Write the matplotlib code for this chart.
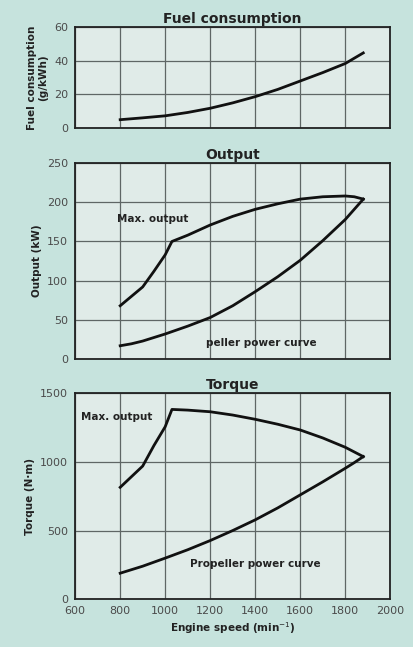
import matplotlib
matplotlib.use('Agg')
import matplotlib.pyplot as plt

# engine speed (min^-1)
rpm_fuel = [800, 900, 1000, 1100, 1200, 1300, 1400, 1500, 1600, 1700, 1800, 1880]
fuel = [5, 6.1, 7.3, 9.3, 11.8, 15, 18.7, 23, 28, 33, 38.4, 44.7]

rpm_max = [800, 900, 950, 1000, 1030, 1100, 1200, 1300, 1400, 1500, 1600, 1700, 1800, 1840, 1880]
out_max = [68, 92, 112, 133, 150, 158, 171, 182, 191, 198, 204, 207, 208, 207, 204]
rpm_prop = [800, 850, 900, 1000, 1100, 1200, 1300, 1400, 1500, 1600, 1700, 1800, 1840, 1880]
out_prop = [17, 19.5, 23, 32, 42, 53, 68, 86, 105, 126, 151, 178, 191, 204]

torque_max = [815, 970, 1120, 1257, 1383, 1378, 1366, 1342, 1311, 1275, 1233, 1175, 1107, 1073, 1039]
rpm_tprop = [800, 900, 1000, 1100, 1200, 1300, 1400, 1500, 1600, 1700, 1800, 1840, 1880]
torque_prop = [189, 240, 299, 360, 427, 500, 578, 665, 760, 855, 954, 995, 1039]

xticks = [600, 800, 1000, 1200, 1400, 1600, 1800, 2000]

bg = '#c6e3dd'
face = '#e0ebe8'
txt = '#222222'

fig = plt.figure(figsize=(4.13, 6.47), dpi=100, facecolor=bg)

def setup(ax, title, ylim, yticks, ylabel, show_x=False):
    ax.set_facecolor(face)
    ax.set_xlim(600, 2000)
    ax.set_ylim(*ylim)
    ax.set_xticks(xticks)
    ax.set_yticks(yticks)
    ax.grid(True, color='#5f6665', linewidth=0.9)
    ax.set_axisbelow(True)
    for s in ax.spines.values():
        s.set_linewidth(1.3)
        s.set_color('#222222')
    ax.tick_params(length=0, labelsize=8, labelcolor='#4a4a4a', pad=5)
    if not show_x:
        ax.tick_params(labelbottom=False)
    ax.set_title(title, fontsize=10, fontweight='bold', color=txt, pad=3)
    ax.set_ylabel(ylabel, fontsize=7.5, fontweight='bold', color=txt, labelpad=4)

ax1 = fig.add_axes([0.182, 0.802, 0.763, 0.156])
setup(ax1, 'Fuel consumption', (0, 60), [0, 20, 40, 60], 'Fuel consumption\n(g/kWh)')
ax1.plot(rpm_fuel, fuel, color='#111111', linewidth=2)

ax2 = fig.add_axes([0.182, 0.445, 0.763, 0.303])
setup(ax2, 'Output', (0, 250), [0, 50, 100, 150, 200, 250], 'Output (kW)')
ax2.plot(rpm_max, out_max, color='#111111', linewidth=2)
ax2.plot(rpm_prop, out_prop, color='#111111', linewidth=2)
ax2.text(787, 179, 'Max. output', fontsize=7.5, fontweight='bold', color=txt, va='center')
ax2.text(1182, 21, 'peller power curve', fontsize=7.5, fontweight='bold', color=txt, va='center')

ax3 = fig.add_axes([0.182, 0.074, 0.763, 0.318])
setup(ax3, 'Torque', (0, 1500), [0, 500, 1000, 1500], 'Torque (N·m)', show_x=True)
ax3.plot(rpm_max, torque_max, color='#111111', linewidth=2)
ax3.plot(rpm_tprop, torque_prop, color='#111111', linewidth=2)
ax3.text(627, 1330, 'Max. output', fontsize=7.5, fontweight='bold', color=txt, va='center')
ax3.text(1111, 255, 'Propeller power curve', fontsize=7.5, fontweight='bold', color=txt, va='center')
ax3.set_xlabel('Engine speed (min$^{-1}$)', fontsize=7.5, fontweight='bold', color=txt, labelpad=3)

fig.savefig('out.png', dpi=100, facecolor=bg)
